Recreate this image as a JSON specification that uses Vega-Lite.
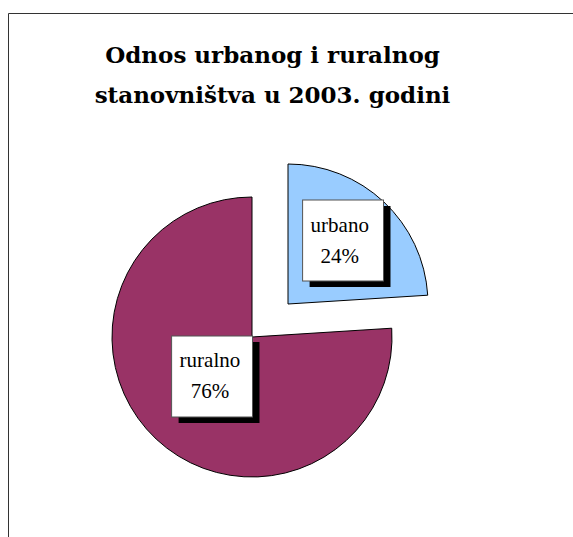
{
  "$schema": "https://vega.github.io/schema/vega-lite/v6.json",
  "autosize": "none",
  "padding": {"left": 8, "top": 13, "right": -30, "bottom": -30},
  "width": 595,
  "height": 554,
  "background": "white",
  "view": {"stroke": "#333333", "strokeWidth": 1},
  "title": {
    "text": ["Odnos urbanog i ruralnog", "stanovništva u 2003. godini"],
    "font": "DejaVu Serif",
    "fontSize": 23,
    "fontWeight": "bold",
    "color": "#000000",
    "lineHeight": 40,
    "anchor": "middle",
    "frame": "group",
    "offset": -95,
    "dx": -33
  },
  "data": {
    "values": [
      {"kategorija": "urbano", "udio": 0.24},
      {"kategorija": "ruralno", "udio": 0.76}
    ]
  },
  "encoding": {
    "theta": {"field": "udio", "type": "quantitative", "stack": true},
    "order": {"field": "kategorija", "sort": "descending"}
  },
  "layer": [
    {
      "mark": {"type": "arc", "radius": 140, "stroke": "#000000", "strokeWidth": 1, "xOffset": -53.5, "yOffset": 47},
      "encoding": {
        "color": {"field": "kategorija", "type": "nominal", "scale": {"domain": ["urbano", "ruralno"], "range": ["#99CCFF", "#993366"]}, "legend": null},
        "opacity": {"condition": {"test": "datum.kategorija === 'ruralno'", "value": 1}, "value": 0}
      }
    },
    {
      "mark": {"type": "arc", "radius": 140, "stroke": "#000000", "strokeWidth": 1, "xOffset": -17.5, "yOffset": 14},
      "encoding": {
        "color": {"field": "kategorija", "type": "nominal", "legend": null},
        "opacity": {"condition": {"test": "datum.kategorija === 'urbano'", "value": 1}, "value": 0}
      }
    },
    {
      "mark": {"type": "text", "radius": 60, "xOffset": -53.5, "yOffset": 47, "dx": 8, "dy": -3, "font": "DejaVu Sans", "fontSize": 106, "baseline": "middle", "align": "center", "fill": "#000000"},
      "encoding": {
        "text": {"value": "■"},
        "opacity": {"condition": {"test": "datum.kategorija === 'ruralno'", "value": 1}, "value": 0}
      }
    },
    {
      "mark": {"type": "text", "radius": 60, "xOffset": -53.5, "yOffset": 47, "dx": 1, "dy": -9, "font": "DejaVu Sans", "fontSize": 106, "baseline": "middle", "align": "center", "fill": "#ffffff", "stroke": "#555555", "strokeWidth": 1},
      "encoding": {
        "text": {"value": "■"},
        "opacity": {"condition": {"test": "datum.kategorija === 'ruralno'", "value": 1}, "value": 0}
      }
    },
    {
      "mark": {"type": "text", "radius": 60, "xOffset": -53.5, "yOffset": 47, "dx": -1, "dy": -14, "font": "Liberation Serif", "fontSize": 21, "baseline": "alphabetic", "align": "center", "fill": "#000000"},
      "encoding": {
        "text": {"field": "kategorija", "type": "nominal"},
        "opacity": {"condition": {"test": "datum.kategorija === 'ruralno'", "value": 1}, "value": 0}
      }
    },
    {
      "mark": {"type": "text", "radius": 60, "xOffset": -53.5, "yOffset": 47, "dx": -1, "dy": 17, "font": "Liberation Serif", "fontSize": 21, "baseline": "alphabetic", "align": "center", "fill": "#000000"},
      "encoding": {
        "text": {"field": "udio", "type": "quantitative", "format": ".0%"},
        "opacity": {"condition": {"test": "datum.kategorija === 'ruralno'", "value": 1}, "value": 0}
      }
    },
    {
      "mark": {"type": "text", "radius": 80, "xOffset": -17.5, "yOffset": 14, "dx": 7, "dy": -4, "font": "DejaVu Sans", "fontSize": 106, "baseline": "middle", "align": "center", "fill": "#000000"},
      "encoding": {
        "text": {"value": "■"},
        "opacity": {"condition": {"test": "datum.kategorija === 'urbano'", "value": 1}, "value": 0}
      }
    },
    {
      "mark": {"type": "text", "radius": 80, "xOffset": -17.5, "yOffset": 14, "dx": 0, "dy": -10, "font": "DejaVu Sans", "fontSize": 106, "baseline": "middle", "align": "center", "fill": "#ffffff", "stroke": "#555555", "strokeWidth": 1},
      "encoding": {
        "text": {"value": "■"},
        "opacity": {"condition": {"test": "datum.kategorija === 'urbano'", "value": 1}, "value": 0}
      }
    },
    {
      "mark": {"type": "text", "radius": 80, "xOffset": -17.5, "yOffset": 14, "dx": -3, "dy": -14, "font": "Liberation Serif", "fontSize": 21, "baseline": "alphabetic", "align": "center", "fill": "#000000"},
      "encoding": {
        "text": {"field": "kategorija", "type": "nominal"},
        "opacity": {"condition": {"test": "datum.kategorija === 'urbano'", "value": 1}, "value": 0}
      }
    },
    {
      "mark": {"type": "text", "radius": 80, "xOffset": -17.5, "yOffset": 14, "dx": -3, "dy": 17, "font": "Liberation Serif", "fontSize": 21, "baseline": "alphabetic", "align": "center", "fill": "#000000"},
      "encoding": {
        "text": {"field": "udio", "type": "quantitative", "format": ".0%"},
        "opacity": {"condition": {"test": "datum.kategorija === 'urbano'", "value": 1}, "value": 0}
      }
    }
  ]
}
